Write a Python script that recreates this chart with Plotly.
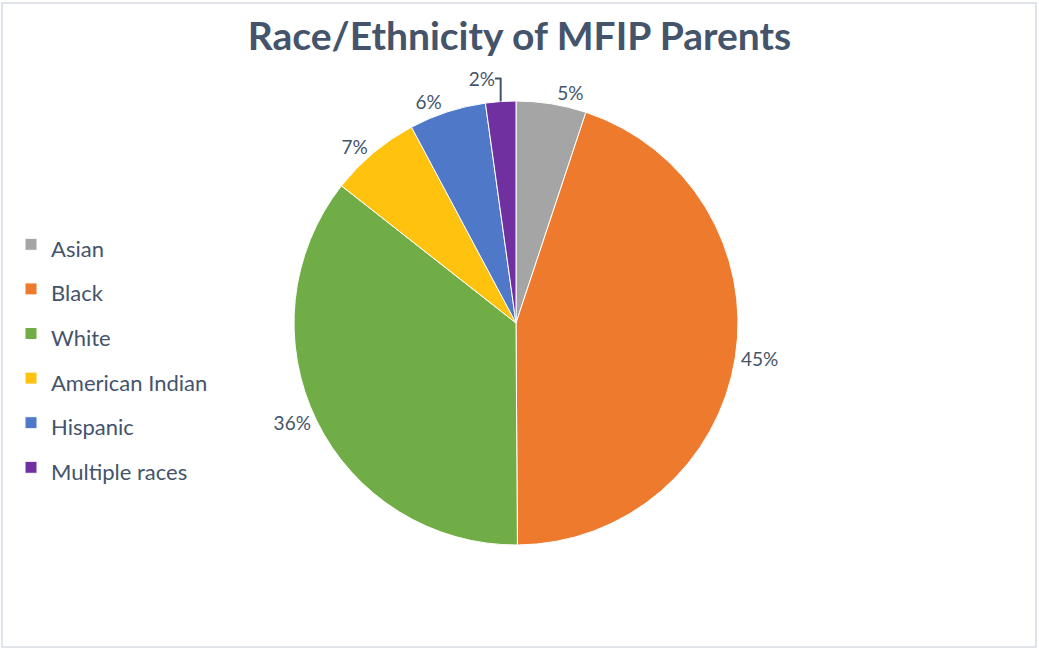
import plotly.graph_objects as go

categories = ["Asian", "Black", "White", "American Indian", "Hispanic", "Multiple races"]
values = [5.1, 44.8, 35.7, 6.6, 5.6, 2.2]
colors = ["#A5A5A5", "#EE7A2E", "#70AD47", "#FFC20E", "#4F79C8", "#7030A0"]

W, H = 1039, 650
cx, cy, r = 516, 323, 222
TXT = "#44546A"

legend_labels = [f'<span style="font-size:22px">{c}</span>' for c in categories]

fig = go.Figure(go.Pie(
    labels=legend_labels,
    values=values,
    sort=False,
    direction="clockwise",
    rotation=0,
    marker=dict(colors=colors, line=dict(color="white", width=1)),
    textposition="outside",
    texttemplate="%{percent:.0%}",
    textfont=dict(size=19, color=TXT, family="Lato"),
    domain=dict(x=[(cx - r) / W, (cx + r) / W],
                y=[(H - cy - r) / H, (H - cy + r) / H]),
    hoverinfo="label+percent",
))

fig.update_layout(
    width=W, height=H,
    margin=dict(l=0, r=0, t=0, b=0),
    paper_bgcolor="white",
    title=dict(text="<b>Race/Ethnicity of MFIP Parents</b>",
               x=0.5, xanchor="center", y=1 - 36 / H, yanchor="middle",
               font=dict(family="Lato", size=39, color=TXT)),
    legend=dict(x=11 / W, xanchor="left", y=(H - 217) / H, yanchor="top",
                font=dict(family="Lato", size=32, color=TXT),
                bgcolor="rgba(0,0,0,0)"),
    font=dict(family="Lato", color=TXT),
    shapes=[dict(type="rect", xref="paper", yref="paper",
                 x0=2 / W, x1=1036 / W, y0=3 / H, y1=647 / H,
                 line=dict(color="#D6DCE4", width=1.5), layer="below")],
)

fig.write_html("out.html", config={"displayModeBar": False},
               post_script="document.body.style.margin='0';document.body.style.overflow='hidden';")
